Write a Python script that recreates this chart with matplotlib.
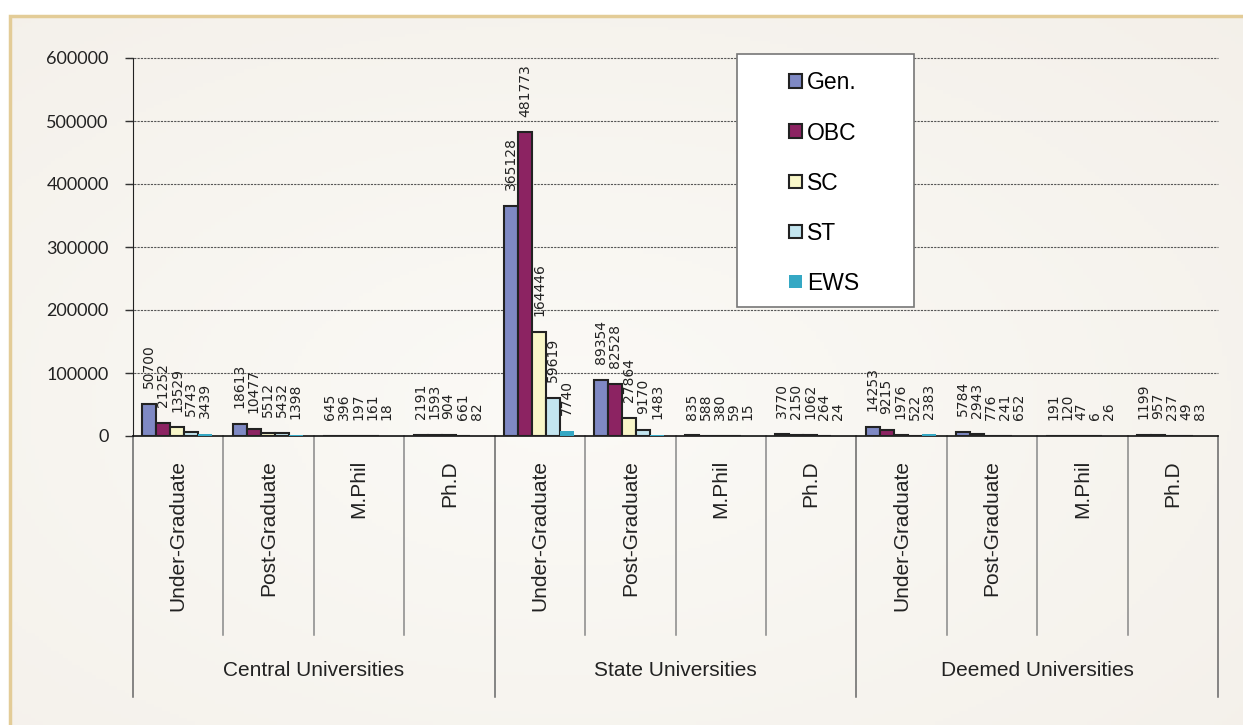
import matplotlib
matplotlib.use("Agg")
import matplotlib.pyplot as plt
import matplotlib.transforms as mtransforms
from matplotlib.patches import Rectangle, Patch
import numpy as np

# enrolment by caste category for each course level
groups = ["Central Universities", "State Universities", "Deemed Universities"]
levels = ["Under-Graduate", "Post-Graduate", "M.Phil", "Ph.D"]
series = ["Gen.", "OBC", "SC", "ST", "EWS"]

gen = [50700, 18613, 645, 2191, 365128, 89354, 835, 3770, 14253, 5784, 191, 1199]
obc = [21252, 10477, 396, 1593, 481773, 82528, 588, 2150, 9215, 2943, 120, 957]
sc = [13529, 5512, 197, 904, 164446, 27864, 380, 1062, 1976, 776, 47, 237]
st = [5743, 5432, 161, 661, 59619, 9170, 59, 264, 522, 241, 6, 49]
ews = [3439, 1398, 18, 82, 7740, 1483, 15, 24, 2383, 652, 26, 83]

colors = ["#7f89c4", "#8c2362", "#f8f6c8", "#c3e5ef", "#35a8c4"]
edges = ["#222222", "#222222", "#222222", "#222222", "none"]

W, H = 1243, 725
fig = plt.figure(figsize=(W / 100, H / 100), dpi=100, facecolor="white")

# cream panel with soft radial shading and a tan border
bg = fig.add_axes([10 / W, 0, 1 - 10 / W, 1 - 16 / H])
gy, gx = np.mgrid[0:1:200j, 0:1:300j]
r = np.sqrt((gx - 0.45) ** 2 + (gy - 0.55) ** 2)
c0 = np.array([0.985, 0.98, 0.965])
c1 = np.array([0.955, 0.94, 0.915])
t = np.clip(r / 0.8, 0, 1)[..., None]
bg.imshow(c0 * (1 - t) + c1 * t, extent=[0, 1, 0, 1], aspect="auto")
bg.set_xlim(0, 1)
bg.set_ylim(0, 1)
bg.axis("off")
fig.add_artist(Rectangle((10 / W, -0.01), 1.0, 1 - 16 / H + 0.01, transform=fig.transFigure,
                         fill=False, edgecolor="#e3cc97", linewidth=2.5))

ax = fig.add_axes([133 / W, (H - 436) / H, (1218 - 133) / W, (436 - 58) / H])
ax.set_facecolor("none")

x = np.arange(len(gen))
w = 0.155
shift = -0.01
for k, (vals, name) in enumerate(zip([gen, obc, sc, st, ews], series)):
    xs = x + shift + (k - 2) * w
    ax.bar(xs, vals, width=w, color=colors[k], edgecolor=edges[k],
           linewidth=1.5 if edges[k] != "none" else 0, label=name, zorder=3)
    for xi, v in zip(xs, vals):
        ax.annotate(str(v), (xi, v), xytext=(0, 11.5), textcoords="offset points",
                    rotation=90, ha="center", va="bottom", fontsize=10,
                    family="DejaVu Sans", color="#222222", zorder=4)

ax.set_xlim(-0.5, len(gen) - 0.5)
ax.set_ylim(0, 600000)
ax.set_yticks(np.arange(0, 600001, 100000))
ax.set_yticklabels([str(v) for v in range(0, 600001, 100000)], family="Lato", fontsize=13,
                   color="#222222")
ax.tick_params(axis="y", length=6, width=1, pad=11.5, color="#333333")
ax.tick_params(axis="x", bottom=False, labelbottom=False)
for yv in range(100000, 600001, 100000):
    ax.axhline(yv, xmin=-6 / (1218 - 133), xmax=1, color="#555555", linewidth=0.8,
               linestyle=(0, (2, 1)), clip_on=False, zorder=1)
for s in ["top", "right"]:
    ax.spines[s].set_visible(False)
ax.spines["left"].set_color("#222222")
ax.spines["bottom"].set_color("#111111")
ax.spines["bottom"].set_linewidth(1.2)

# category axis: level labels, separators and university groups
tr = mtransforms.blended_transform_factory(ax.transData, ax.transAxes)
sub_bottom = (436 - 635) / 378
grp_bottom = (436 - 697) / 378
for i in range(len(gen) + 1):
    xb = i - 0.5
    if i % 4 == 0:
        ax.plot([xb, xb], [0, grp_bottom], transform=tr, color="#666666", linewidth=1.1,
                clip_on=False)
    else:
        ax.plot([xb, xb], [0, sub_bottom], transform=tr, color="#888888", linewidth=1.1,
                clip_on=False)
for i in range(len(gen)):
    ax.text(i, (436 - 460) / 378, levels[i % 4], transform=tr, rotation=90, ha="center",
            va="top", fontsize=15, family="Liberation Sans", color="#222222")
for g, name in enumerate(groups):
    ax.text(g * 4 + 1.5, (436 - 670) / 378, name, transform=tr, ha="center", va="center",
            fontsize=15, family="Liberation Sans", color="#222222")

# legend in its own box
fig.add_artist(Rectangle((737 / W, (H - 307) / H), 177 / W, 253 / H, transform=fig.transFigure,
                         facecolor="white", edgecolor="#777777", linewidth=1.2, zorder=5))
handles = [Patch(facecolor=colors[k], edgecolor=edges[k],
                 linewidth=1.5 if edges[k] != "none" else 0) for k in range(5)]
leg = fig.legend(handles, series, loc="upper left", bbox_to_anchor=(778 / W, (H - 60) / H),
                 frameon=False, borderpad=0, handlelength=0.55, handleheight=0.55,
                 handletextpad=0.2, labelspacing=1.18,
                 prop={"family": "Liberation Sans", "size": 16.5})
leg.set_zorder(6)

fig.savefig("out.png", dpi=100)
